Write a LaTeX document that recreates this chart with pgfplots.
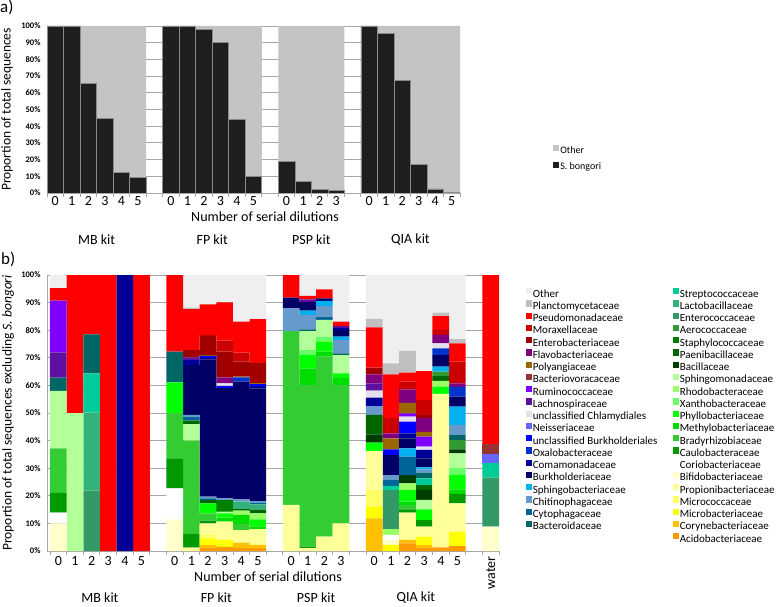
\documentclass[border=0pt]{standalone}
\usepackage{pgfplots}
\pgfplotsset{compat=1.18}
\usepackage{pgfplotstable}
\usepackage{graphicx}
\usepackage{fontspec}
\setmainfont{Carlito}

\definecolor{gridgray}{HTML}{A6A6A6}
\definecolor{othera}{HTML}{C4C4C4}
\definecolor{bongori}{HTML}{1E1E1E}
\definecolor{barline}{HTML}{8A8A8A}
\definecolor{cAcido}{HTML}{FF9900}
\definecolor{cCoryne}{HTML}{FFC000}
\definecolor{cMicrob}{HTML}{FFFF00}
\definecolor{cMicroc}{HTML}{FFFF66}
\definecolor{cPropi}{HTML}{FFFF99}
\definecolor{cBifi}{HTML}{FFFFCC}
\definecolor{cCorio}{HTML}{FFFFFF}
\definecolor{cCaulo}{HTML}{009900}
\definecolor{cBrady}{HTML}{33CC33}
\definecolor{cMethy}{HTML}{00DD00}
\definecolor{cPhyllo}{HTML}{00FF00}
\definecolor{cXantho}{HTML}{66FF66}
\definecolor{cRhodo}{HTML}{99FF66}
\definecolor{cSphingo}{HTML}{B3FF99}
\definecolor{cBacil}{HTML}{003D00}
\definecolor{cPaeni}{HTML}{006600}
\definecolor{cStaph}{HTML}{008000}
\definecolor{cAero}{HTML}{339933}
\definecolor{cEntero}{HTML}{339966}
\definecolor{cLacto}{HTML}{33B37A}
\definecolor{cStrepto}{HTML}{00CC99}
\definecolor{cBactero}{HTML}{006666}
\definecolor{cCyto}{HTML}{006699}
\definecolor{cChitino}{HTML}{6699CC}
\definecolor{cSphingob}{HTML}{00B0F0}
\definecolor{cBurk}{HTML}{000066}
\definecolor{cComa}{HTML}{000099}
\definecolor{cOxalo}{HTML}{0033CC}
\definecolor{cuBurk}{HTML}{0000FF}
\definecolor{cNeiss}{HTML}{6666FF}
\definecolor{cuChlam}{HTML}{E6E0EC}
\definecolor{cLachno}{HTML}{6010A0}
\definecolor{cRumino}{HTML}{8000FF}
\definecolor{cBvora}{HTML}{993333}
\definecolor{cPolyang}{HTML}{996600}
\definecolor{cFlavo}{HTML}{800080}
\definecolor{cEnterob}{HTML}{A00000}
\definecolor{cMorax}{HTML}{CC0000}
\definecolor{cPseudo}{HTML}{FF0000}
\definecolor{cPlancto}{HTML}{BFBFBF}
\definecolor{cOther}{HTML}{EFEFEF}

\pgfplotstableread{
x S O
0 100 0
1 100 0
2 65.7 34.3
3 44.8 55.2
4 12.5 87.5
5 9.4 90.6
7 100 0
8 100 0
9 98 2
10 90.2 9.8
11 44.2 55.8
12 10 90
14 18.9 81.1
15 7 93
16 2 98
17 1.6 98.4
19 100 0
20 95.6 4.4
21 67.3 32.7
22 16.9 83.1
23 2.4 97.6
24 0.2 99.8
}\tabA

\pgfplotstableread{
x Acido Coryne Microb Microc Propi Bifi Corio Caulo Brady Methy Phyllo Xantho Rhodo Sphingo Bacil Paeni Staph Aero Entero Lacto Strepto Bactero Cyto Chitino Sphingob Burk Coma Oxalo uBurk Neiss uChlam Lachno Rumino Bvora Polyang Flavo Enterob Morax Pseudo Plancto Other
0  0 0 0 0 0  10 3.9 7.2 16.1 0  0 0 0 20.8 0  0 0 0 0 0  0 4.8 0 0 0  0 0 0 0 0  0 9.2 18.7 0 0  0 0 0 4.5 0  4.8
1  0 0 0 0 0  0 0 0 0 0  0 0 0 50 0  0 0 0 0 0  0 0 0 0 0  0 0 0 0 0  0 0 0 0 0  0 0 0 50 0  0
2  0 0 0 0 0  0 0 0 0 0  0 0 0 0 0  0 0 0 21.9 28.2  14.3 14.1 0 0 0  0 0 0 0 0  0 0 0 0 0  0 0 0 21.5 0  0
3  0 0 0 0 0  0 0 0 0 0  0 0 0 0 0  0 0 0 0 0  0 0 0 0 0  0 0 0 0 0  0 0 0 0 0  0 0 0 100 0  0
4  0 0 0 0 0  0 0 0 0 0  0 0 0 0 0  0 0 0 0 0  0 0 0 0 0  0 100 0 0 0  0 0 0 0 0  0 0 0 0 0  0
5  0 0 0 0 0  0 0 0 0 0  0 0 0 0 0  0 0 0 0 0  0 0 0 0 0  0 0 0 0 0  0 0 0 0 0  0 0 0 100 0  0
7  0 0 0 0 0  11.5 11.2 10.9 16.3 0  11.2 0 0 0 0  0 0 0 0 0  0 11.1 0 0 0  0 0 0 0 0  0 0 0 0 0  0 0 0 27.8 0  0
8  0 0 0 0 1.2  0 0 5 33.8 0  0 0 0 6 0  1.2 0 0 0 0  0 0 1.5 0.6 0  18.1 1.8 0 0 0  0 1 0 0 0  0 2.6 0 14.8 0.6  11.8
9  1 1.2 2.4 1.2 4.2  0 0 1 2.6 0  3.7 0 0 0 0  1.2 0 0 0 0  0 0 0.6 0.6 0  49.7 0.6 0 0.7 0  0 0 0 0 0.3  0 6.9 0.4 11.1 0  10.6
10 1.5 0 2.5 0 6.6  0 0 0 0 1.5  1.5 0 0 0.7 0  0 4.2 0 0 0  0 0 0 0.6 0  39.9 0 0 0.8 0  0.9 0 0 0 0  2.2 9.3 4 13.9 0  9.9
11 1 2 0 0 4.6  0 0 0 2.2 3.2  0 0 1.6 0 0  0.6 0 0 0 2.7  0 0 0 0.8 0  42.7 0 1.5 0 0  0 0 0 0 0.3  0 5.4 3.3 11.2 0  16.9
12 1 1.2 0 0 5.7  0 0 0 0 1  2.6 0 2.1 0 0  1.4 0 0 0 1.9  0 0 0.6 0.6 0  40.8 0.8 0 0.8 0  0 0 0 0 0.3  0 7.4 0 15.8 0  16
14 0 0 0 0 16.7  0 0 0 63 0  0 0 0 0 0  0 0 0 0 0  0 0 0 8.2 0  3.9 0 0 0 0  0 0 0 0 0  0 0 0 8.2 0  0
15 0 0 0 0 1  0 0 0.6 58.5 6.1  4.8 1.8 0 6.9 0  0 0 0 0 0  0 0.6 0 5.2 1.6  3.2 0 0 0 0  0 0.9 0 0 0  0 0 0 1.2 0  7.6
16 0 0 0 0 5.2  0 0 0 65.2 1.8  3.6 1.9 0 6 0  0 0 0 0 0  0 0 1.2 3.9 1.8  0.9 0 0 0 0  0 0 0 0 0  0 0 0 3.3 0  5.2
17 0 0 0 0 10  0 0 0 50.1 2.5  1.8 0 0 6.6 0  0 0 0 0 0  0 0.6 0 4.8 1.3  2.4 0.7 0 0 0  0 0.7 0 0 0  0 0 0 1.6 0  16.9
19 0 11.8 4.3 6 14.1  0 0 0 0 0  3.1 0 0 0 3  7 0 0 0 0  0 0 0 3.2 0  0 3.1 0 0 0  2.5 2.6 0 0 0  3.3 2.4 0 14.6 3.1  15.9
20 0 0 2.2 0 0  1.8 1.8 0 0 0  0 0 2.1 0 0  0 0 0 14.2 0  1.5 0 2.1 1.8 0  7.3 0 0 2 0  0 0 0 0 4  1.8 0 5.5 15.9 4  32
21 2.8 1.2 0 0 9.9  0 0 1.2 1.6 1.2  4.2 0 2.4 0 3  0 0 0 0 0  0 0 6.7 0 3  3.6 1.8 0 4.3 0  1.8 0 1.2 0 3.8  4.9 0 2.8 3.2 7.9  27.5
22 1 1.2 3 0 3.6  0 0 2.4 0 0  3.9 0 0 3.4 3.6  1.8 0 0 0 0  2.4 2.1 0 1.2 0.7  3.3 3 0 0 0  1.2 0 3.6 0 1.8  4.9 1.2 5.4 10.5 0  34.8
23 1.3 0 0 0 55.6  0 0 0 0 0  2.6 0 2.1 0 0  1.8 0 1.6 0 0  0 0 0 0 1.8  4.2 0 2.4 0 0  1.8 0 0 0 0  3.1 0 1.8 5 1.3  13.6
24 1.8 0 5.2 0 10.3  0 0 3.4 0 1.6  5.2 2.5 0 5.4 1.4  0 0 3.4 0 0  0 1.8 0 3.7 6.6  3.6 0 3.6 0 0  0 0 0 0 0  1.2 0 7.9 6.6 1.6  23.2
26 0 0 0 0 0  8.8 0 0 0 0  0 0 0 0 0  0 0 0 17.8 0  5.2 0 0 0 0  0 0 0 0 3.3  0 0 0 3.7 0  0 0 0 61.2 0  0
}\tabB

\pgfplotsset{
  common/.style={
    scale only axis, anchor=south west,
    ymin=0, ymax=100, enlargelimits=false,
    ybar stacked, bar width=1,
    axis x line*=bottom, axis y line*=left,
    axis line style={draw=gridgray, line width=0.8pt},
    ytick={0,10,20,30,40,50,60,70,80,90,100},
    yticklabels={0\%,10\%,20\%,30\%,40\%,50\%,60\%,70\%,80\%,90\%,100\%},
    ymajorgrids, grid style={draw=gridgray, line width=0.8pt},
    major tick length=0pt, minor tick length=4pt, tick align=outside,
    minor tick style={draw=gridgray, line width=0.8pt},
    xticklabel style={font=\fontsize{14}{14}\selectfont},
    yticklabel style={font=\fontsize{8.5}{9}\selectfont\bfseries, xshift=-3pt},
  },
  legB/.style={
    hide axis, scale only axis, width=100pt, height=100pt,
    xmin=0, xmax=1, ymin=0, ymax=1, anchor=north west,
    legend cell align=left,
    legend image code/.code={\fill[##1] (0pt,0.6pt) rectangle (5.4pt,6pt);},
    legend style={at={(0,1)}, anchor=north west, draw=none, fill=none,
      inner sep=0pt, outer sep=0pt, row sep=0pt, font=\fontsize{11}{12}\selectfont,
      nodes={inner sep=1pt, text height=8pt, text depth=2.1pt}},
  },
  legA/.style={
    hide axis, scale only axis, width=100pt, height=100pt,
    xmin=0, xmax=1, ymin=0, ymax=1, anchor=north west,
    legend cell align=left,
    legend image code/.code={\fill[##1] (0pt,0.6pt) rectangle (5.4pt,6pt);},
    legend style={at={(0,1)}, anchor=north west, draw=none, fill=none,
      inner sep=0pt, outer sep=0pt, row sep=0pt, font=\fontsize{10}{11}\selectfont,
      nodes={inner sep=1.5pt, text height=9pt, text depth=4.5pt}},
  },
}

\begin{document}
\begin{tikzpicture}[x=1pt,y=1pt]
\useasboundingbox (0,0) rectangle (778,606);

% ---------- panel a ----------
\begin{axis}[common, at={(47pt,413pt)}, width=413pt, height=167pt,
  xmin=-0.5, xmax=24.5,
  xtick={0,1,2,3,4,5,7,8,9,10,11,12,14,15,16,17,19,20,21,22,23,24},
  xticklabels={0,1,2,3,4,5,0,1,2,3,4,5,0,1,2,3,0,1,2,3,4,5},
  minor xtick={-0.5,0.5,...,24.5}]
\addplot[fill=bongori, draw=barline, line width=0.6pt] table[x=x,y=S]{\tabA};
\addplot[fill=othera, draw=none] table[x=x,y=O]{\tabA};
\end{axis}

% ---------- panel b ----------
\begin{axis}[common, at={(47pt,55pt)}, width=452pt, height=276pt,
  xmin=-0.68, xmax=26.5,
  xtick={0,1,2,3,4,5,7,8,9,10,11,12,14,15,16,17,19,20,21,22,23,24,26},
  xticklabels={0,1,2,3,4,5,0,1,2,3,4,5,0,1,2,3,0,1,2,3,4,5,\rotatebox{90}{water}},
  xticklabel style={yshift=-2pt},
  minor xtick={-0.5,0.5,...,26.5}]
\pgfplotsinvokeforeach{Acido,Coryne,Microb,Microc,Propi,Bifi,Corio,Caulo,Brady,Methy,Phyllo,Xantho,Rhodo,Sphingo,Bacil,Paeni,Staph,Aero,Entero,Lacto,Strepto,Bactero,Cyto,Chitino,Sphingob,Burk,Coma,Oxalo,uBurk,Neiss,uChlam,Lachno,Rumino,Bvora,Polyang,Flavo,Enterob,Morax,Pseudo,Plancto,Other}{
  \addplot[fill=c#1, draw=none] table[x=x,y=#1]{\tabB};
}
\end{axis}

% ---------- legend a ----------
\begin{axis}[legA, at={(553pt,463pt)}]
\addlegendimage{othera}\addlegendentry{Other}
\addlegendimage{bongori}\addlegendentry{S. bongori}
\end{axis}

% ---------- legend b, column 1 ----------
\begin{axis}[legB, at={(526pt,318pt)}]
\addlegendimage{cOther}\addlegendentry{Other}
\addlegendimage{cPlancto}\addlegendentry{Planctomycetaceae}
\addlegendimage{cPseudo}\addlegendentry{Pseudomonadaceae}
\addlegendimage{cMorax}\addlegendentry{Moraxellaceae}
\addlegendimage{cEnterob}\addlegendentry{Enterobacteriaceae}
\addlegendimage{cFlavo}\addlegendentry{Flavobacteriaceae}
\addlegendimage{cPolyang}\addlegendentry{Polyangiaceae}
\addlegendimage{cBvora}\addlegendentry{Bacteriovoracaceae}
\addlegendimage{cRumino}\addlegendentry{Ruminococcaceae}
\addlegendimage{cLachno}\addlegendentry{Lachnospiraceae}
\addlegendimage{cuChlam}\addlegendentry{unclassified Chlamydiales}
\addlegendimage{cNeiss}\addlegendentry{Neisseriaceae}
\addlegendimage{cuBurk}\addlegendentry{unclassified Burkholderiales}
\addlegendimage{cOxalo}\addlegendentry{Oxalobacteraceae}
\addlegendimage{cComa}\addlegendentry{Comamonadaceae}
\addlegendimage{cBurk}\addlegendentry{Burkholderiaceae}
\addlegendimage{cSphingob}\addlegendentry{Sphingobacteriaceae}
\addlegendimage{cChitino}\addlegendentry{Chitinophagaceae}
\addlegendimage{cCyto}\addlegendentry{Cytophagaceae}
\addlegendimage{cBactero}\addlegendentry{Bacteroidaceae}
\end{axis}

% ---------- legend b, column 2 ----------
\begin{axis}[legB, at={(673pt,318pt)}]
\addlegendimage{cStrepto}\addlegendentry{Streptococcaceae}
\addlegendimage{cLacto}\addlegendentry{Lactobacillaceae}
\addlegendimage{cEntero}\addlegendentry{Enterococcaceae}
\addlegendimage{cAero}\addlegendentry{Aerococcaceae}
\addlegendimage{cStaph}\addlegendentry{Staphylococcaceae}
\addlegendimage{cPaeni}\addlegendentry{Paenibacillaceae}
\addlegendimage{cBacil}\addlegendentry{Bacillaceae}
\addlegendimage{cSphingo}\addlegendentry{Sphingomonadaceae}
\addlegendimage{cRhodo}\addlegendentry{Rhodobacteraceae}
\addlegendimage{cXantho}\addlegendentry{Xanthobacteraceae}
\addlegendimage{cPhyllo}\addlegendentry{Phyllobacteriaceae}
\addlegendimage{cMethy}\addlegendentry{Methylobacteriaceae}
\addlegendimage{cBrady}\addlegendentry{Bradyrhizobiaceae}
\addlegendimage{cCaulo}\addlegendentry{Caulobacteraceae}
\addlegendimage{cCorio}\addlegendentry{Coriobacteriaceae}
\addlegendimage{cBifi}\addlegendentry{Bifidobacteriaceae}
\addlegendimage{cPropi}\addlegendentry{Propionibacteriaceae}
\addlegendimage{cMicroc}\addlegendentry{Micrococcaceae}
\addlegendimage{cMicrob}\addlegendentry{Microbacteriaceae}
\addlegendimage{cCoryne}\addlegendentry{Corynebacteriaceae}
\addlegendimage{cAcido}\addlegendentry{Acidobacteriaceae}
\end{axis}

% ---------- texts ----------
\node[anchor=north west, inner sep=0pt, font=\fontsize{17}{18}\selectfont] at (0,606) {a)};
\node[anchor=north west, inner sep=0pt, font=\fontsize{17}{18}\selectfont] at (1,354) {b)};
\node[rotate=90, font=\fontsize{13.5}{15}\selectfont] at (7,496.5) {Proportion of total sequences};
\node[rotate=90, font=\fontsize{13.5}{15}\selectfont] at (8,193) {Proportion of total sequences excluding \textit{S. bongori}};
\node[font=\fontsize{14}{15}\selectfont] at (265,389) {Number of serial dilutions};
\node[font=\fontsize{14}{15}\selectfont] at (268,29) {Number of serial dilutions};
\foreach \xx/\tt in {96.6/MB kit, 212.2/FP kit, 311.3/PSP kit, 410.4/QIA kit}
  \node[font=\fontsize{14}{15}\selectfont] at (\xx,366) {\tt};
\foreach \xx/\tt in {99.9/MB kit, 216.3/FP kit, 316.1/PSP kit, 415.9/QIA kit}
  \node[font=\fontsize{14}{15}\selectfont] at (\xx,8) {\tt};
\end{tikzpicture}
\end{document}
